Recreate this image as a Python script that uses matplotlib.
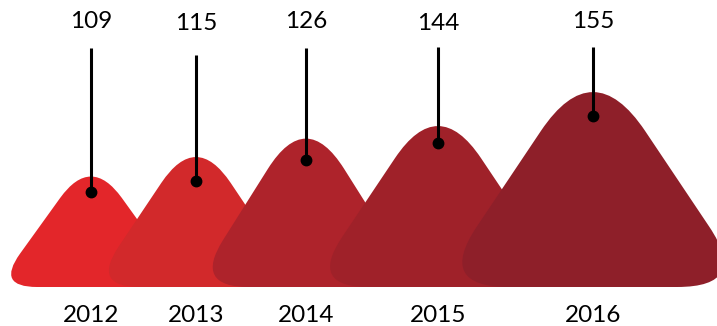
import numpy as np
import matplotlib
matplotlib.use('Agg')
import matplotlib.pyplot as plt
from matplotlib.path import Path
from matplotlib.patches import PathPatch

# data
years = ['2012', '2013', '2014', '2015', '2016']
values = [109, 115, 126, 144, 155]

# layout (pixel space of the infographic)
centers = [91, 196, 306, 438, 593]
peak_heights = [110, 130, 149, 161, 195]
slopes = [0.72, 0.67, 0.63, 0.67, 0.67]
dot_depth = [15, 24, 22, 17, 24]
line_tops = [48, 55, 48, 47, 47]
label_ys = [22, 24, 22, 23, 22]
colors = ['#e3262a', '#d2292b', '#ae232b', '#9f2129', '#8e1f29']
base_y = 287


def rounded_poly(pts, dists):
    pts = [np.array(p, dtype=float) for p in pts]
    n = len(pts)
    verts, codes = [], []
    for i in range(n):
        p, prev, nxt = pts[i], pts[i - 1], pts[(i + 1) % n]
        a = p + dists[i] * (prev - p) / np.linalg.norm(prev - p)
        b = p + dists[i] * (nxt - p) / np.linalg.norm(nxt - p)
        verts.append(a)
        codes.append(Path.MOVETO if i == 0 else Path.LINETO)
        verts += [p, b]
        codes += [Path.CURVE3, Path.CURVE3]
    verts.append(verts[0])
    codes.append(Path.CLOSEPOLY)
    return Path(verts, codes)


def mountain(cx, vis_h, slope):
    H = vis_h / 0.834
    apex = (cx, base_y - H)
    bl = (cx - slope * H, base_y)
    br = (cx + slope * H, base_y)
    return rounded_poly([apex, br, bl], [0.40 * H, 0.31 * H, 0.31 * H])


fig = plt.figure(figsize=(7.17, 3.26), dpi=100)
ax = fig.add_axes([0, 0, 1, 1])
ax.set_xlim(0, 717)
ax.set_ylim(326, 0)
ax.axis('off')

font = ['Lato', 'DejaVu Sans']

for i, (yr, val) in enumerate(zip(years, values)):
    cx = centers[i]
    top = base_y - peak_heights[i]
    ax.add_patch(PathPatch(mountain(cx, peak_heights[i], slopes[i]),
                           facecolor=colors[i], edgecolor='none', zorder=1 + i))
    dot_y = top + dot_depth[i]
    ax.plot([cx, cx], [line_tops[i], dot_y], color='black', lw=2.2, zorder=20,
            solid_capstyle='butt')
    ax.plot(cx, dot_y, 'o', color='black', ms=7.5, zorder=21)
    ax.text(cx, label_ys[i], str(val), ha='center', va='center', fontsize=17.5,
            family=font, color='black')
    ax.text(cx, 316, yr, ha='center', va='center', fontsize=17.5,
            family=font, color='black')

fig.savefig('out.png', dpi=100)
